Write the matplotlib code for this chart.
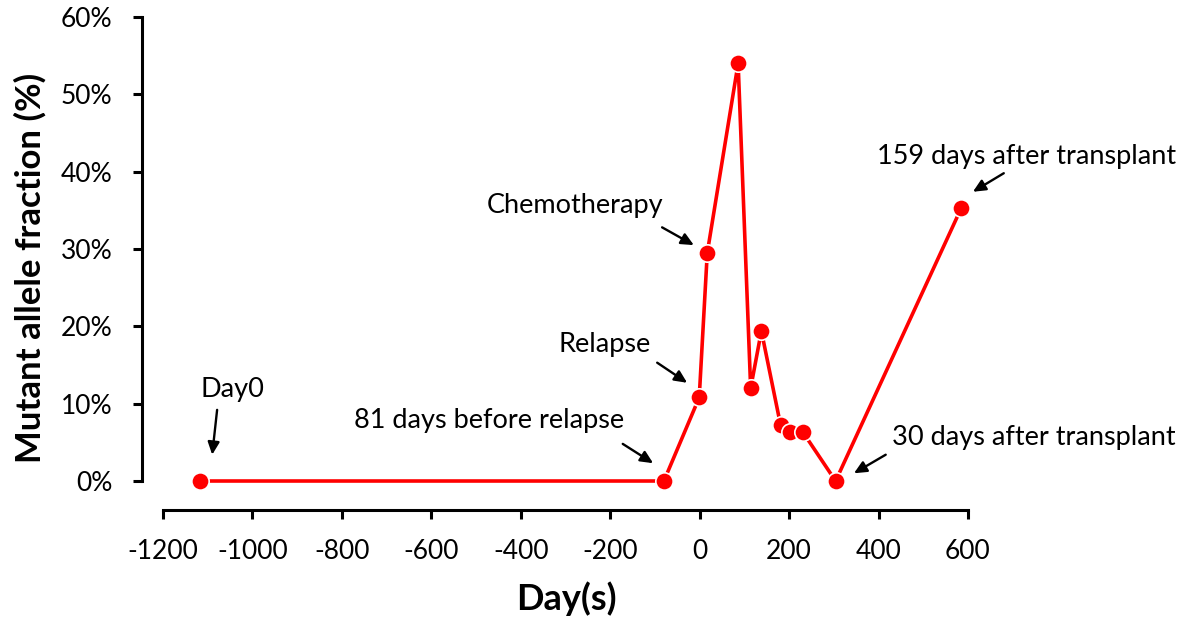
import numpy as np
import matplotlib.pyplot as plt
from matplotlib.patches import FancyArrowPatch
from matplotlib.ticker import FuncFormatter

plt.rcParams['font.family'] = ['Lato', 'DejaVu Sans']
plt.rcParams['axes.unicode_minus'] = False

# values
days = [-1117, -80, -1, 17, 86, 114, 138, 181, 202, 231, 304, 585]
maf = [0.0, 0.0, 10.8, 29.5, 54.0, 12.0, 19.4, 7.2, 6.4, 6.3, 0.0, 35.3]

# annotations: text, text position, arrow tail, arrow tip (data coords)
notes = [
    ("Day0", (-1045, 11.8), (-1079, 9.2), (-1090, 3.4)),
    ("81 days before relapse", (-471, 7.8), (-172, 4.8), (-104, 2.3)),
    ("Relapse", (-212, 17.6), (-95, 15.3), (-28, 12.7)),
    ("Chemotherapy", (-279, 35.6), (-84, 32.8), (-13, 30.5)),
    ("30 days after transplant", (748, 5.6), (416, 3.4), (345, 1.0)),
    ("159 days after transplant", (730, 42.0), (680, 39.8), (611, 37.4)),
]

fig = plt.figure(figsize=(11.79, 6.26), dpi=100)
ax = fig.add_axes([163/1179, 1 - 481/626, 805/1179, 464/626])

ax.plot(days, maf, color="#ff0000", lw=2.6, marker="o", ms=12.5,
        mfc="#ff0000", mec="white", mew=1.2, clip_on=False, zorder=3)

for txt, tpos, tail, tip in notes:
    ax.text(tpos[0], tpos[1], txt, ha="center", va="center", fontsize=19.5)
    arr = FancyArrowPatch(tail, tip, arrowstyle="-|>,head_length=0.75,head_width=0.35",
                          mutation_scale=10, color="black", lw=1.7,
                          shrinkA=0, shrinkB=0, clip_on=False)
    ax.add_patch(arr)

ax.set_xlim(-1200, 600)
ax.set_ylim(0, 60)
ax.set_xticks(np.arange(-1200, 601, 200))
ax.set_yticks(np.arange(0, 61, 10))
ax.yaxis.set_major_formatter(FuncFormatter(lambda v, p: f"{v:.0f}%"))

for s in ["top", "right"]:
    ax.spines[s].set_visible(False)
ax.spines["left"].set_position(("outward", 15))
ax.spines["bottom"].set_position(("outward", 21))
ax.spines["left"].set_linewidth(2.2)
ax.spines["bottom"].set_linewidth(2.2)
ax.tick_params(axis="both", width=2.2, length=6.5, labelsize=19, direction="out")
ax.tick_params(axis="y", pad=15)
ax.tick_params(axis="x", pad=14)

ax.set_xlabel("Day(s)", fontsize=26, fontweight="bold")
ax.xaxis.set_label_coords((566 - 163) / 805, -(599 - 481) / 464)
ax.set_ylabel("Mutant allele fraction (%)", fontsize=25, fontweight="bold")
ax.yaxis.set_label_coords((30 - 163) / 805, (481 - 268) / 464)
ax.xaxis.label.set_va("center")
ax.yaxis.label.set_va("center")

fig.savefig("out.png", dpi=100)
